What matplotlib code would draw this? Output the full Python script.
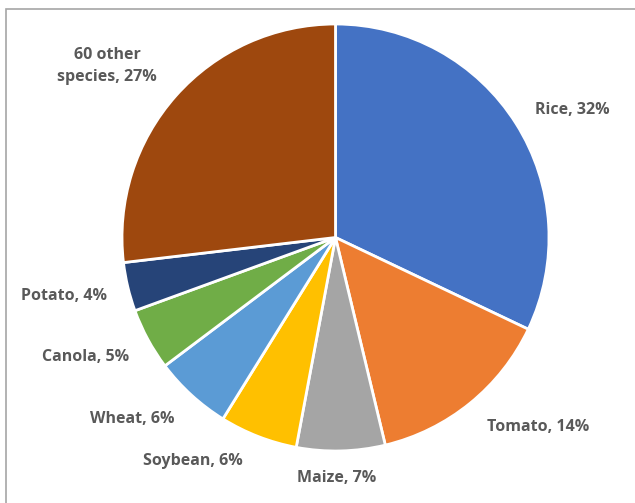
import matplotlib.pyplot as plt
from matplotlib.patches import Rectangle

# data (share of species, %)
crops = ["Rice", "Tomato", "Maize", "Soybean", "Wheat", "Canola", "Potato", "60 other\nspecies"]
shares = [32.1, 14.2, 6.7, 5.9, 5.9, 4.7, 3.7, 26.9]
pct_labels = ["32%", "14%", "7%", "6%", "6%", "5%", "4%", "27%"]
colors = ["#4472C4", "#ED7D31", "#A5A5A5", "#FFC000", "#5B9BD5", "#70AD47", "#264478", "#9E480E"]

W, H = 635, 503
fig = plt.figure(figsize=(W / 100, H / 100), dpi=100)
ax = fig.add_axes([0, 0, 1, 1])

# chart frame (clipped at right/bottom like the reference)
fig.patches.append(Rectangle((6 / W, -0.1), 1.2, (H - 9) / H + 0.1, transform=fig.transFigure,
                             fill=False, edgecolor="#A6A6A6", linewidth=1.2))

cx, cy, r = 335.5, H - 237.5, 213.5
ax.pie(shares, colors=colors, startangle=90, counterclock=False,
       center=(cx, cy), radius=r, frame=True,
       wedgeprops=dict(edgecolor="white", linewidth=2))
ax.set_xlim(0, W)
ax.set_ylim(0, H)
ax.set_aspect("equal")
ax.axis("off")

# label positions in pixels (x, y from top)
label_pos = [(572, 110), (538, 427), (337, 478), (193, 461),
             (132, 419), (86, 357), (64, 296), (107, 66)]
for name, pct, (x, y) in zip(crops, pct_labels, label_pos):
    ax.text(x, H - y, f"{name}, {pct}", ha="center", va="center",
            fontsize=11.5, fontweight="bold", color="#595959",
            family=["Open Sans", "DejaVu Sans"], linespacing=1.55)

fig.savefig("out.png", dpi=100, facecolor="white")
